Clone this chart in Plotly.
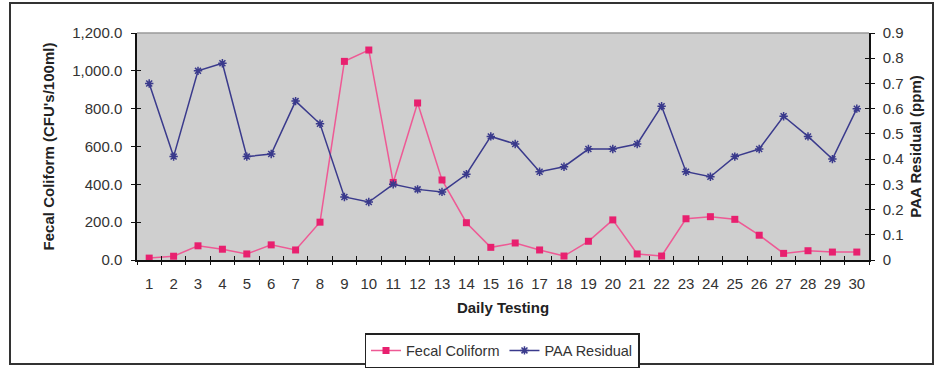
import plotly.graph_objects as go

# Daily testing results
days = list(range(1, 31))
fecal_coliform = [10, 20, 75, 57, 32, 80, 53, 200, 1050, 1110,
                  410, 830, 423, 197, 67, 90, 53, 21, 99, 212,
                  32, 21, 218, 229, 215, 131, 35, 49, 42, 42]
paa_residual = [0.70, 0.41, 0.75, 0.78, 0.41, 0.42, 0.63, 0.54, 0.25, 0.23,
                0.30, 0.28, 0.27, 0.34, 0.49, 0.46, 0.35, 0.37, 0.44, 0.44,
                0.46, 0.61, 0.35, 0.33, 0.41, 0.44, 0.57, 0.49, 0.40, 0.60]

left_ticks = [0, 200, 400, 600, 800, 1000, 1200]
left_labels = ["0.0", "200.0", "400.0", "600.0", "800.0", "1,000.0", "1,200.0"]
right_ticks = [0, 0.1, 0.2, 0.3, 0.4, 0.5, 0.6, 0.7, 0.8, 0.9]
right_labels = ["0", "0.1", "0.2", "0.3", "0.4", "0.5", "0.6", "0.7", "0.8", "0.9"]

W, H = 940, 368
L, R, T, B = 137, 869, 33, 260  # plot area edges in pixels

PINK = "#e8206f"
PINK_LINE = "#ee5a95"
NAVY = "#3a3a8c"
FONT = "Liberation Sans, Arial, sans-serif"
TICK_COLOR = "#333333"
TITLE_COLOR = "#222222"

fig = go.Figure()
fig.add_trace(go.Scatter(
    x=days, y=fecal_coliform, name="Fecal Coliform", mode="lines+markers",
    line=dict(color=PINK_LINE, width=1.5),
    marker=dict(symbol="square", size=7, color=PINK),
    yaxis="y", xaxis="x"))
fig.add_trace(go.Scatter(
    x=days, y=paa_residual, name="PAA Residual", mode="lines+markers",
    line=dict(color=NAVY, width=1.5),
    marker=dict(symbol="asterisk-open", size=7, color=NAVY,
                line=dict(color=NAVY, width=1.5)),
    yaxis="y2", xaxis="x"))

def px_x(p):
    return (p - L) / (R - L)

def px_y(p):
    return (B - p) / (B - T)

xr = [0.5, 30.5]
half_steps = [d + 0.5 for d in range(0, 31)]

fig.update_layout(
    width=W, height=H,
    margin=dict(l=L, r=W - R, t=T, b=H - B, pad=0, autoexpand=False),
    paper_bgcolor="white",
    plot_bgcolor="#cfcfcf",
    font=dict(family=FONT, size=15, color=TICK_COLOR),
    showlegend=True,
    legend=dict(orientation="h", x=px_x(502), xanchor="center",
                y=px_y(333), yanchor="top",
                bordercolor="#222222", borderwidth=1.5,
                font=dict(size=14.5, color="#333333"),
                itemwidth=30, tracegroupgap=0,
                bgcolor="white"),
    xaxis=dict(range=xr, tickvals=days, ticktext=[str(d) for d in days],
               ticks="", showgrid=False, zeroline=False,
               showline=True, linecolor="#111111", linewidth=1.5,
               tickfont=dict(size=15, color=TICK_COLOR), ticklabelstandoff=9,
               title=dict(text="<b>Daily Testing</b>", standoff=12,
                          font=dict(size=15, color=TITLE_COLOR))),
    xaxis2=dict(range=xr, overlaying="x", anchor="y", side="bottom",
                tickvals=half_steps, ticks="outside", ticklen=4, tickwidth=1.2,
                tickcolor="#111111", showticklabels=False, showgrid=False,
                zeroline=False, showline=False),
    xaxis3=dict(range=xr, overlaying="x", anchor="y", side="bottom",
                tickvals=half_steps, ticks="inside", ticklen=4, tickwidth=1.2,
                tickcolor="#111111", showticklabels=False, showgrid=False,
                zeroline=False, showline=False),
    yaxis=dict(range=[0, 1200], tickvals=left_ticks, ticktext=left_labels,
               ticks="outside", ticklen=4, tickwidth=1.2, tickcolor="#111111",
               showgrid=False, zeroline=False,
               showline=True, linecolor="#111111", linewidth=1.5,
               tickfont=dict(size=15, color=TICK_COLOR), ticklabelstandoff=6,
               title=dict(text="<b>Fecal Coliform (CFU's/100ml)</b>", standoff=14,
                          font=dict(size=15, color=TITLE_COLOR))),
    yaxis2=dict(range=[0, 0.9], overlaying="y", side="right", anchor="x",
                tickvals=right_ticks, ticktext=right_labels,
                ticks="outside", ticklen=4, tickwidth=1.2, tickcolor="#111111",
                showgrid=False, zeroline=False,
                showline=True, linecolor="#111111", linewidth=1.5,
                tickfont=dict(size=15, color=TICK_COLOR), ticklabelstandoff=5,
                title=dict(text="<b>PAA Residual (ppm)</b>", standoff=8,
                           font=dict(size=15, color=TITLE_COLOR))),
    yaxis3=dict(range=[0, 1200], overlaying="y", side="left", anchor="x",
                tickvals=left_ticks, ticks="inside", ticklen=4, tickwidth=1.2,
                tickcolor="#111111", showticklabels=False, showgrid=False,
                zeroline=False, showline=False),
    yaxis4=dict(range=[0, 0.9], overlaying="y", side="right", anchor="x",
                tickvals=right_ticks, ticks="inside", ticklen=4, tickwidth=1.2,
                tickcolor="#111111", showticklabels=False, showgrid=False,
                zeroline=False, showline=False),
    shapes=[
        # light top edge of the plot area
        dict(type="line", xref="paper", yref="paper", x0=0, x1=1, y0=1, y1=1,
             line=dict(color="#9a9a9a", width=1.5), layer="above"),
        # outer frame around the whole chart
        dict(type="rect", xref="paper", yref="paper",
             x0=px_x(10), x1=px_x(933), y0=px_y(364), y1=px_y(3),
             line=dict(color="#333333", width=2), layer="above"),
    ],
)

# invisible helpers so the overlay tick axes get drawn
for xa, ya in [("x2", "y"), ("x3", "y"), ("x", "y3"), ("x", "y4")]:
    fig.add_trace(go.Scatter(x=[None], y=[None], xaxis=xa, yaxis=ya,
                             showlegend=False, hoverinfo="skip"))

fig.write_html("out.html")
